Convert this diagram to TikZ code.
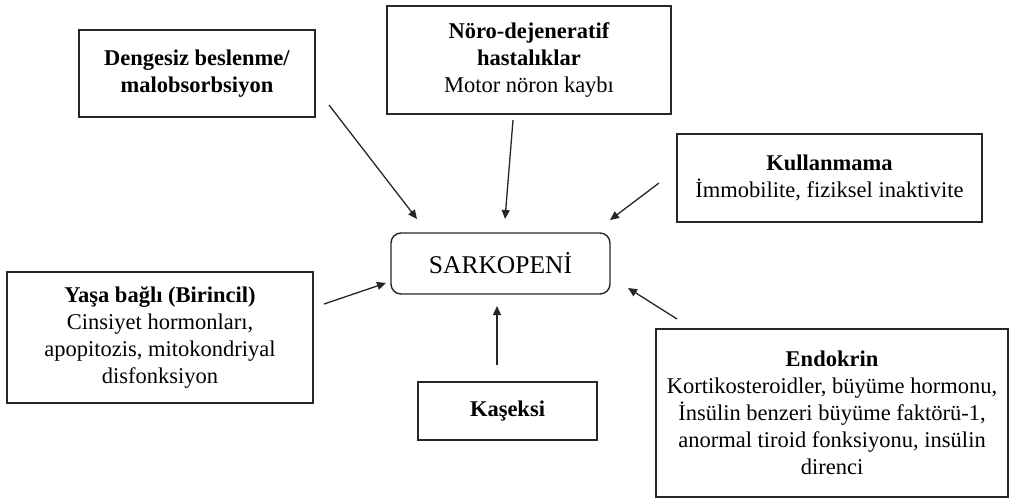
\documentclass[tikz,border=0pt]{standalone}
\usepackage{fontspec}
\setmainfont{Liberation Serif}
\usetikzlibrary{arrows.meta}
\begin{document}
\begin{tikzpicture}[x=1pt,y=-1pt,
  box/.style={draw=black!85,line width=1.4pt,align=center,inner sep=0pt,
    font=\fontsize{22.5pt}{27pt}\selectfont},
  arr/.style={draw=black!85,line width=1.3pt,-{Triangle[length=9pt,width=8pt]}}]
\useasboundingbox (0,0) rectangle (1011,500);
\node[box,minimum width=236pt,minimum height=87pt] (deng) at (197,73.5)
  {\textbf{Dengesiz beslenme/}\\\textbf{malobsorbsiyon}};
\node[box,minimum width=284pt,minimum height=108pt] (noro) at (529,60)
  {\textbf{Nöro-dejeneratif}\\\textbf{hastalıklar}\\Motor nöron kaybı};
\node[box,minimum width=305pt,minimum height=88pt] (kull) at (829.5,178)
  {\textbf{Kullanmama}\\İmmobilite, fiziksel inaktivite};
\node[box,rounded corners=10pt,minimum width=219pt,minimum height=61pt,
  font=\fontsize{25.5pt}{30pt}\selectfont] (sark) at (500.5,263.5) {SARKOPENİ};
\node[box,minimum width=306pt,minimum height=131pt] (yasa) at (160,337.5)
  {\textbf{Yaşa bağlı (Birincil)}\\Cinsiyet hormonları,\\apopitozis, mitokondriyal\\disfonksiyon};
\node[box,minimum width=179pt,minimum height=58pt] (kas) at (507.5,411)
  {\textbf{Kaşeksi}};
\node[box,minimum width=352pt,minimum height=168pt] (endo) at (832,413)
  {\textbf{Endokrin}\\Kortikosteroidler, büyüme hormonu,\\İnsülin benzeri büyüme faktörü-1,\\anormal tiroid fonksiyonu, insülin\\direnci};
% arrow end points
\coordinate (dengS) at (329,105);  \coordinate (dengE) at (417,219);
\coordinate (noroS) at (513,120);  \coordinate (noroE) at (505,219);
\coordinate (kullS) at (659,183);  \coordinate (kullE) at (610,220);
\coordinate (yasaS) at (324,304);  \coordinate (yasaE) at (386,283);
\coordinate (kasS)  at (497,365);  \coordinate (kasE)  at (497,306);
\coordinate (endoS) at (677,319);  \coordinate (endoE) at (628,288);
\draw[arr] (dengS) -- (dengE);
\draw[arr] (noroS) -- (noroE);
\draw[arr] (kullS) -- (kullE);
\draw[arr] (yasaS) -- (yasaE);
\draw[arr] (kasS) -- (kasE);
\draw[arr] (endoS) -- (endoE);
\end{tikzpicture}
\end{document}
